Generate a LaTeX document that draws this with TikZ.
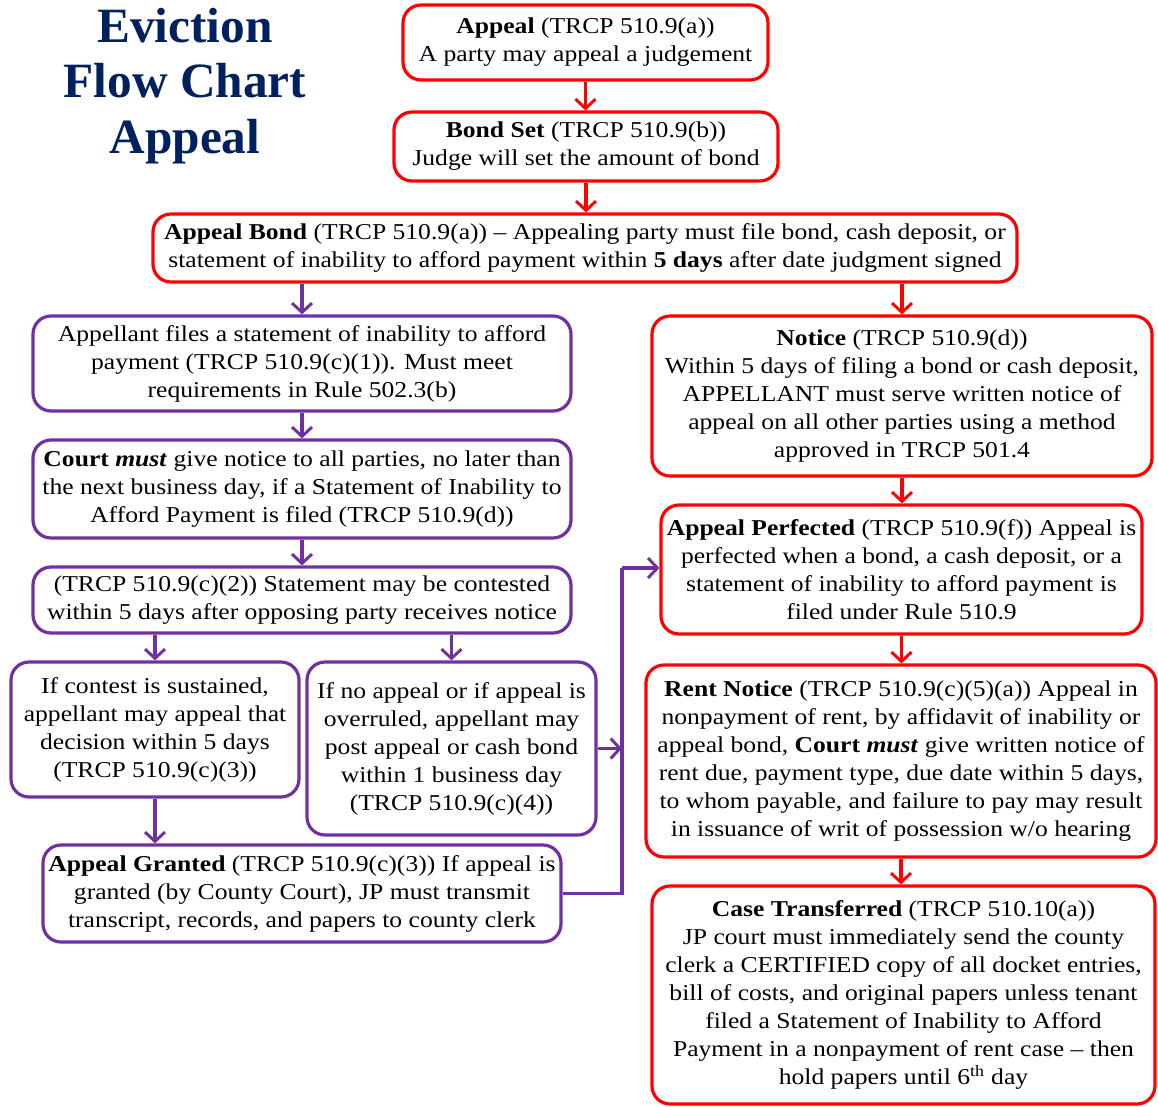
\documentclass[tikz,border=0pt]{standalone}
\usepackage{fontspec}
\setmainfont{Liberation Serif}[FakeStretch=1.13]
\newfontfamily\titlefont{Liberation Serif}
\usetikzlibrary{arrows.meta}
\definecolor{rd}{HTML}{FF0000}
\definecolor{pu}{HTML}{7030A0}
\definecolor{navy}{HTML}{002060}
\tikzset{
  box/.style={rounded corners=18*0.75pt, line width=2.4pt, align=center, inner sep=0pt,
     font=\fontsize{17}{21}\selectfont, fill=white},
  rbox/.style={box, draw=rd},
  pbox/.style={box, draw=pu},
  rarr/.style={draw=rd, line width=2.4pt, -{Straight Barb[length=7pt,width=15pt,line width=2.2pt]}},
  parr/.style={draw=pu, line width=2.4pt, -{Straight Barb[length=7pt,width=15pt,line width=2.2pt]}},
  pline/.style={draw=pu, line width=2.4pt},
}
\begin{document}
\begin{tikzpicture}[x=0.75pt,y=-0.75pt]
\useasboundingbox (0,0) rectangle (1158,1107);
% title
\node[text=navy, font=\titlefont\bfseries\fontsize{37}{41.5}\selectfont, align=center] (title) at (185,86)
  {Eviction\\Flow Chart\\Appeal};
% red top chain
\node[rbox, minimum width=365*0.75pt, minimum height=75*0.75pt] (b1) at (585.5,42.5)
  {\textbf{Appeal} (TRCP 510.9(a))\\A party may appeal a judgement};
\node[rbox, minimum width=384*0.75pt, minimum height=69*0.75pt] (b2) at (586,146.5)
  {\textbf{Bond Set} (TRCP 510.9(b))\\Judge will set the amount of bond};
\node[rbox, minimum width=864*0.75pt, minimum height=68*0.75pt] (b3) at (585,248)
  {\textbf{Appeal Bond} (TRCP 510.9(a)) -- Appealing party must file bond, cash deposit, or\\statement of inability to afford payment within \textbf{5 days} after date judgment signed};
% purple column
\node[pbox, minimum width=538*0.75pt, minimum height=95*0.75pt] (b4) at (302,363.5)
  {Appellant files a statement of inability to afford\\payment (TRCP 510.9(c)(1)). Must meet\\requirements in Rule 502.3(b)};
\node[pbox, minimum width=538*0.75pt, minimum height=98*0.75pt] (b5) at (302,489)
  {\textbf{Court \textit{must}} give notice to all parties, no later than\\the next business day, if a Statement of Inability to\\Afford Payment is filed (TRCP 510.9(d))};
\node[pbox, minimum width=538*0.75pt, minimum height=66*0.75pt] (b6) at (302,600)
  {(TRCP 510.9(c)(2)) Statement may be contested\\within 5 days after opposing party receives notice};
\node[pbox, minimum width=288*0.75pt, minimum height=135*0.75pt] (b7) at (155,729.5)
  {If contest is sustained,\\appellant may appeal that\\decision within 5 days\\(TRCP 510.9(c)(3))};
\node[pbox, minimum width=289*0.75pt, minimum height=173*0.75pt] (b8) at (451.5,748.5)
  {If no appeal or if appeal is\\overruled, appellant may\\post appeal or cash bond\\within 1 business day\\(TRCP 510.9(c)(4))};
\node[pbox, minimum width=518*0.75pt, minimum height=97*0.75pt] (b9) at (302,893.5)
  {\textbf{Appeal Granted} (TRCP 510.9(c)(3)) If appeal is\\granted (by County Court), JP must transmit\\transcript, records, and papers to county clerk};
% red right column
\node[rbox, minimum width=500*0.75pt, minimum height=160*0.75pt] (b10) at (902,396)
  {\textbf{Notice} (TRCP 510.9(d))\\Within 5 days of filing a bond or cash deposit,\\APPELLANT must serve written notice of\\appeal on all other parties using a method\\approved in TRCP 501.4};
\node[rbox, minimum width=481*0.75pt, minimum height=129*0.75pt] (b11) at (901.5,569.5)
  {\textbf{Appeal Perfected} (TRCP 510.9(f)) Appeal is\\perfected when a bond, a cash deposit, or a\\statement of inability to afford payment is\\filed under Rule 510.9};
\node[rbox, minimum width=510*0.75pt, minimum height=192*0.75pt] (b12) at (901,761)
  {\textbf{Rent Notice} (TRCP 510.9(c)(5)(a)) Appeal in\\nonpayment of rent, by affidavit of inability or\\appeal bond, \textbf{Court \textit{must}} give written notice of\\rent due, payment type, due date within 5 days,\\to whom payable, and failure to pay may result\\in issuance of writ of possession w/o hearing};
\node[rbox, minimum width=503*0.75pt, minimum height=218*0.75pt] (b13) at (903.5,995)
  {\textbf{Case Transferred} (TRCP 510.10(a))\\JP court must immediately send the county\\clerk a CERTIFIED copy of all docket entries,\\bill of costs, and original papers unless tenant\\filed a Statement of Inability to Afford\\Payment in a nonpayment of rent case -- then\\hold papers until 6\textsuperscript{th} day};
% connectors
\draw[rarr] (b1.south) -- (b1.south |- b2.north);
\draw[rarr] (b2.south) -- (b2.south |- b3.north);
\draw[rarr] (b10.north |- b3.south) -- (b10.north);
\draw[parr] (b4.north |- b3.south) -- (b4.north);
\draw[parr] (b4.south) -- (b5.north);
\draw[parr] (b5.south) -- (b6.north);
\draw[parr] (b7.north |- b6.south) -- (b7.north);
\draw[parr] (b8.north |- b6.south) -- (b8.north);
\draw[parr] (b7.south) -- (b7.south |- b9.north);
\coordinate (j) at (622,568);
\draw[parr] (b8.east) -- (j |- b8.east);
\draw[pline] (b9.east) -- (j |- b9.east) -- (j);
\draw[parr] (j) -- (b11.west |- j);
\draw[rarr] (b10.south) -- (b10.south |- b11.north);
\draw[rarr] (b11.south) -- (b11.south |- b12.north);
\draw[rarr] (b12.south) -- (b12.south |- b13.north);
\end{tikzpicture}
\end{document}
